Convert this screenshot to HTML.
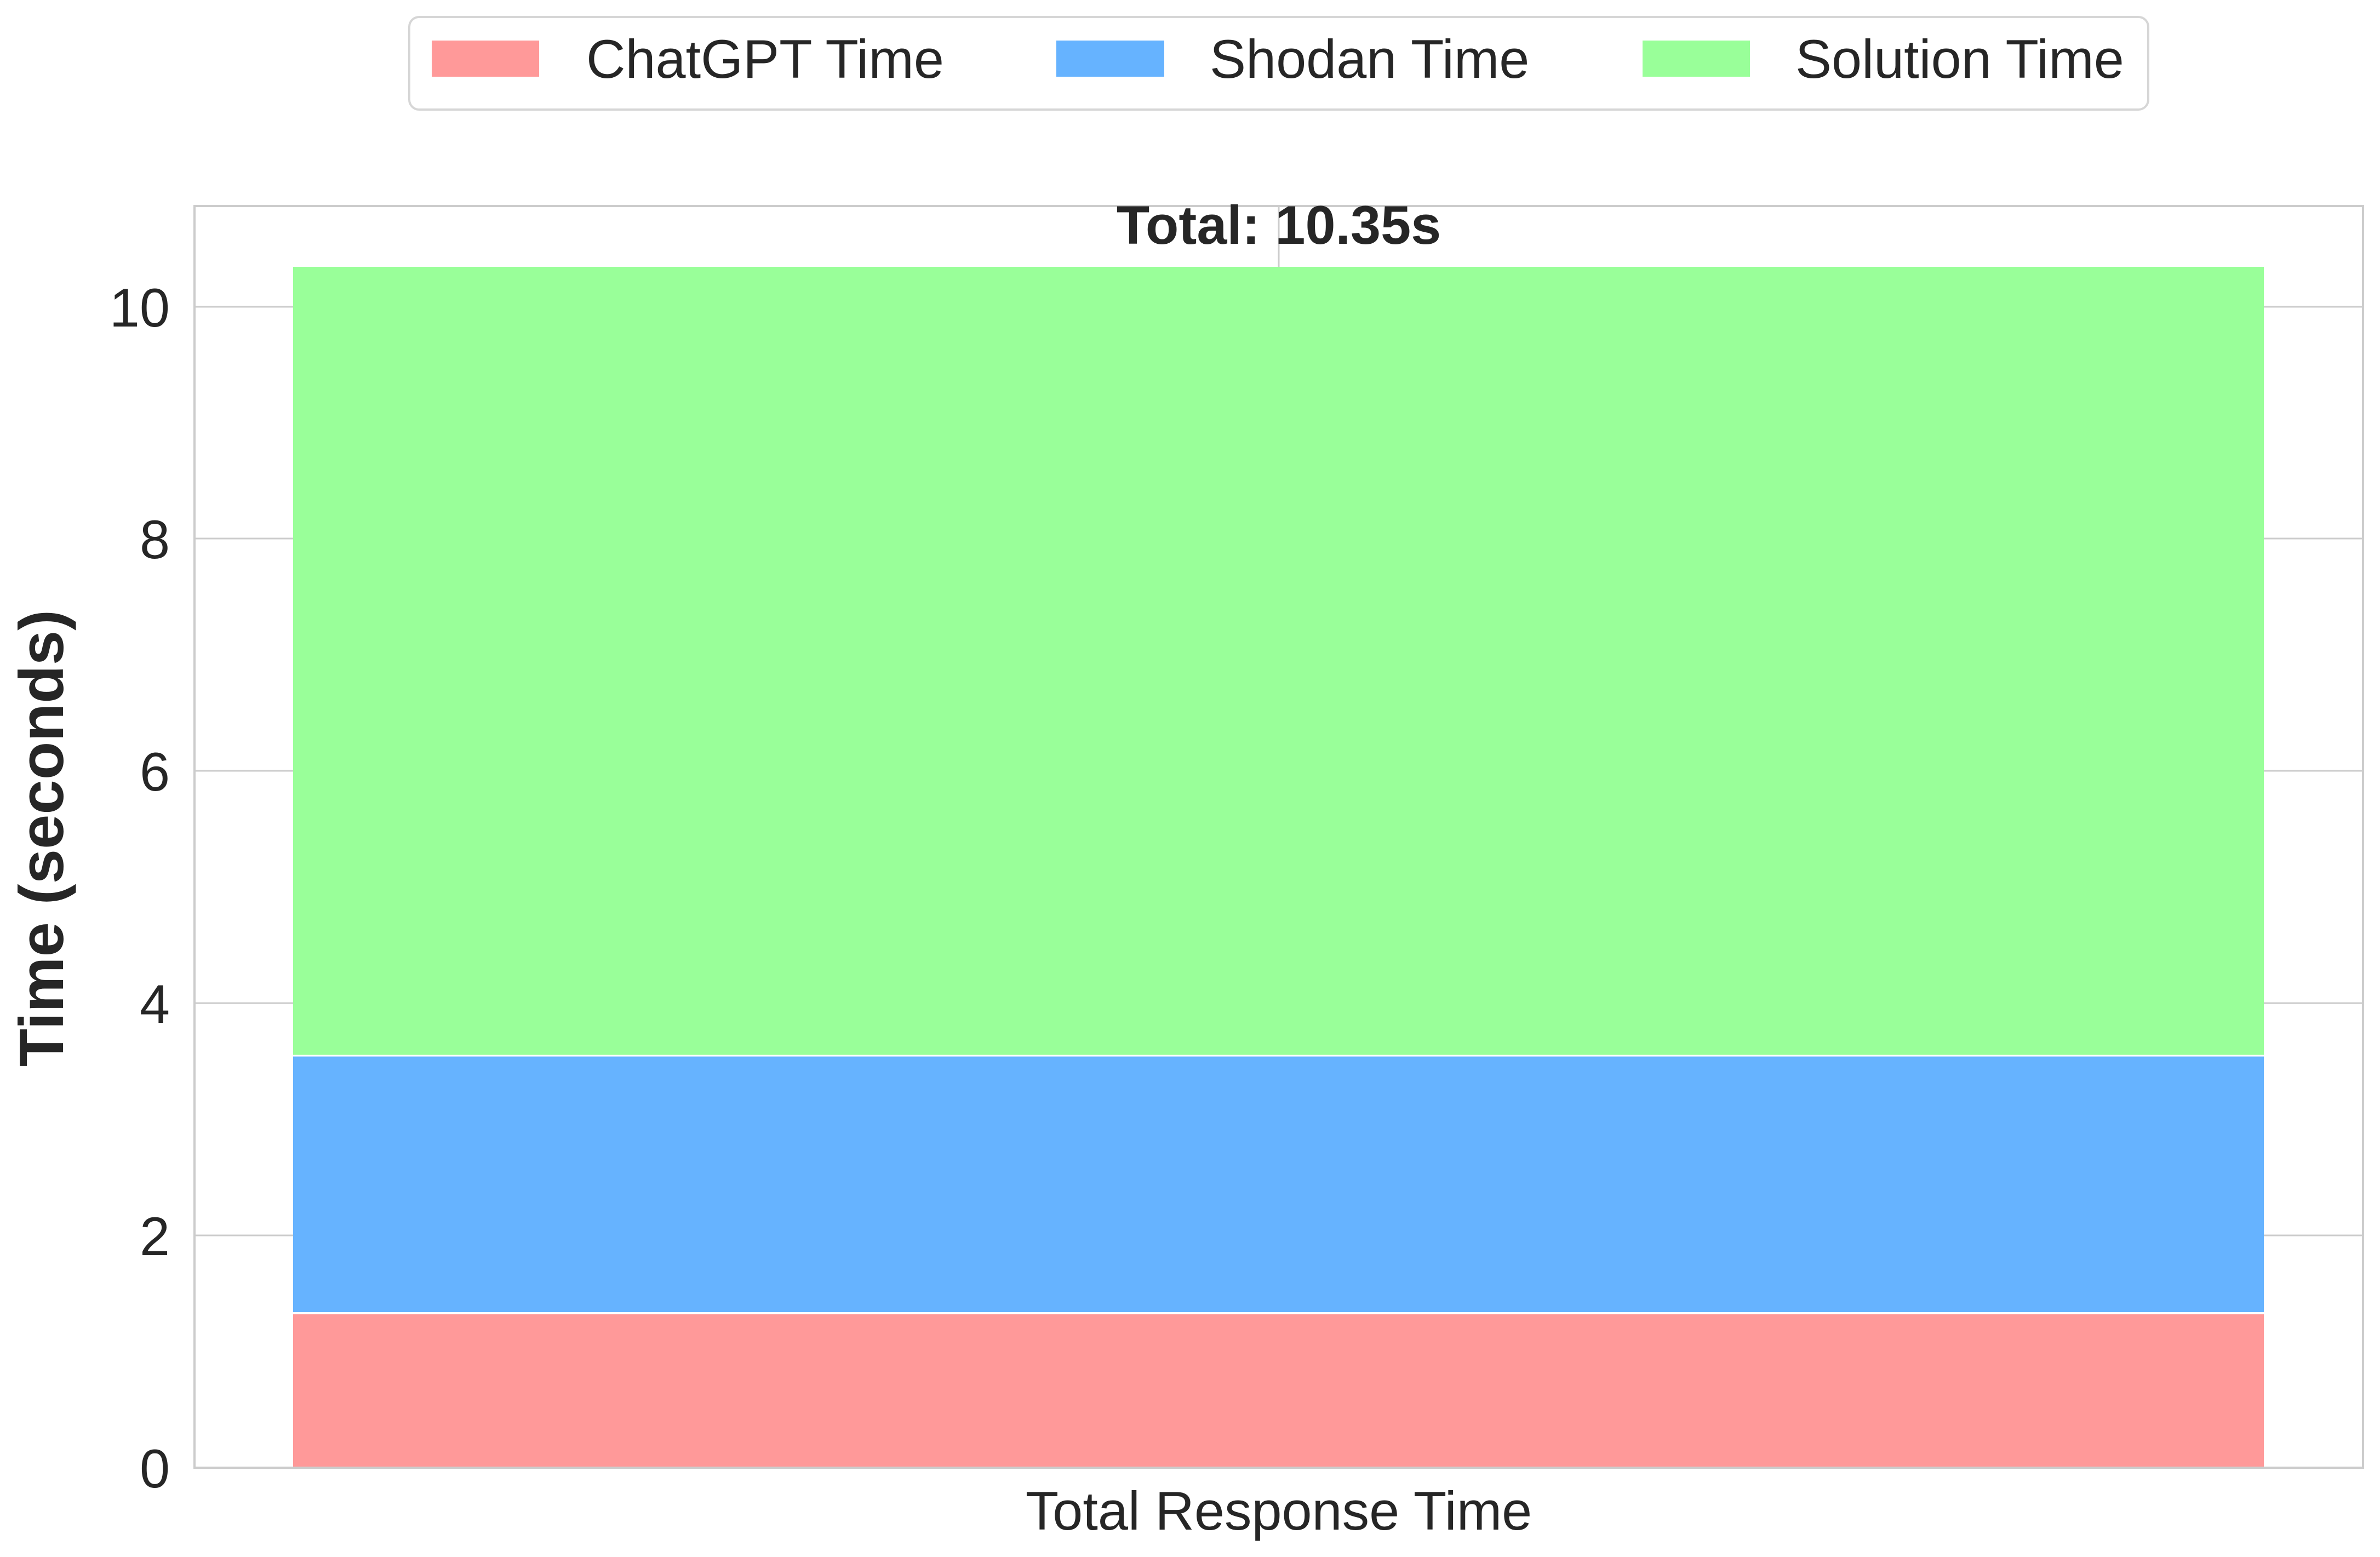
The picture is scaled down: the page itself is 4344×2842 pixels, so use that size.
<!DOCTYPE html>
<html><head><meta charset="utf-8"><style>html,body{margin:0;padding:0;background:#fff}svg{display:block}</style></head>
<body>
<svg width="4344" height="2842" viewBox="0 0 4344 2842" xmlns="http://www.w3.org/2000/svg" font-family="Liberation Sans, Arial, sans-serif">
<rect width="4344" height="2842" fill="#fff"/>
<g stroke="#cccccc" stroke-width="3">
<line x1="355" y1="2255" x2="4313" y2="2255"/>
<line x1="355" y1="1831" x2="4313" y2="1831"/>
<line x1="355" y1="1407" x2="4313" y2="1407"/>
<line x1="355" y1="983" x2="4313" y2="983"/>
<line x1="355" y1="560" x2="4313" y2="560"/>
<line x1="2334" y1="376" x2="2334" y2="2679"/>
</g>
<rect x="535" y="487" width="3597" height="1439" fill="#99ff99"/>
<rect x="535" y="1928" width="3597" height="467" fill="#66b3ff"/>
<rect x="535" y="2399" width="3597" height="280" fill="#ff9999"/>
<line x1="535" y1="1927" x2="4132" y2="1927" stroke="#fff" stroke-width="3"/>
<line x1="535" y1="2397" x2="4132" y2="2397" stroke="#fff" stroke-width="4"/>
<rect x="355" y="376" width="3958" height="2303" fill="none" stroke="#cccccc" stroke-width="4"/>
<g font-size="99" fill="#262626" text-anchor="end">
<text x="310" y="2715">0</text>
<text x="310" y="2291">2</text>
<text x="310" y="1867">4</text>
<text x="310" y="1443">6</text>
<text x="310" y="1019">8</text>
<text x="310" y="596">10</text>
</g>
<text x="2334" y="2792" font-size="99" fill="#262626" text-anchor="middle">Total Response Time</text>
<text transform="translate(115,1530) rotate(-90)" font-size="114" font-weight="bold" fill="#262626" text-anchor="middle">Time (seconds)</text>
<text x="2334" y="445" font-size="99" font-weight="bold" fill="#262626" text-anchor="middle">Total: 10.35s</text>
<rect x="747" y="31" width="3174" height="169" rx="18" fill="#fff" stroke="#d6d6d6" stroke-width="4"/>
<rect x="788" y="74" width="196" height="66" fill="#ff9999"/>
<rect x="1928" y="74" width="197" height="66" fill="#66b3ff"/>
<rect x="2998" y="74" width="196" height="66" fill="#99ff99"/>
<g font-size="99" fill="#262626">
<text x="1070" y="142">ChatGPT Time</text>
<text x="2208" y="142">Shodan Time</text>
<text x="3277" y="142">Solution Time</text>
</g>
</svg>
</body></html>
